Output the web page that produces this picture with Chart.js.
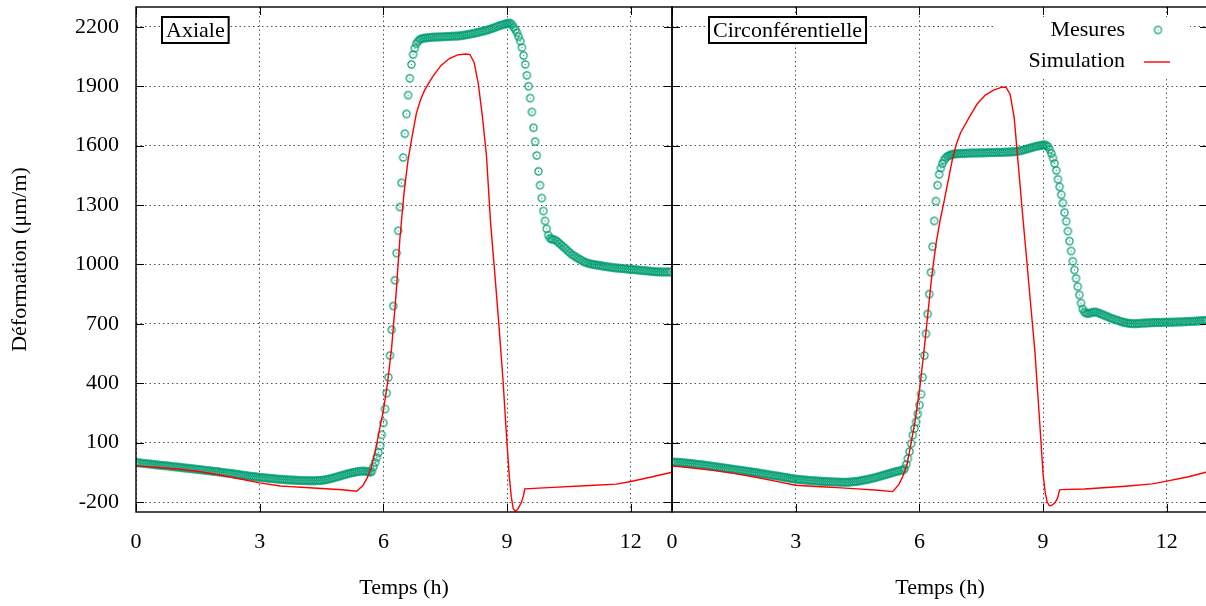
<!DOCTYPE html>
<html>
<head>
<meta charset="utf-8">
<script src="https://cdn.jsdelivr.net/npm/chart.js@4.4.0/dist/chart.umd.min.js"></script>
<style>
  html, body { margin: 0; padding: 0; background: #fff; }
  #wrap { position: relative; width: 1206px; height: 606px; overflow: hidden; }
  #axial { position: absolute; left: 0; top: 0; width: 680px; height: 606px; }
  #circ  { position: absolute; left: 622px; top: 0; width: 600px; height: 606px; }
</style>
</head>
<body>
<div id="wrap">
  <canvas id="axial" width="680" height="606"></canvas>
  <canvas id="circ" width="600" height="606"></canvas>
</div>
<script>
// temps des mesures (h), commun aux deux jauges
const tMes = [
  0,0.05,0.1,0.15,0.2,0.25,0.3,0.35,0.4,0.45,0.5,0.55,0.6,0.65,0.7,0.75,0.8,0.85,0.9,0.95,
  1,1.05,1.1,1.15,1.2,1.25,1.3,1.35,1.4,1.45,1.5,1.55,1.6,1.65,1.7,1.75,1.8,1.85,1.9,1.95,
  2,2.05,2.1,2.15,2.2,2.25,2.3,2.35,2.4,2.45,2.5,2.55,2.6,2.65,2.7,2.75,2.8,2.85,2.9,2.95,
  3,3.05,3.1,3.15,3.2,3.25,3.3,3.35,3.4,3.45,3.5,3.55,3.6,3.65,3.7,3.75,3.8,3.85,3.9,3.95,
  4,4.05,4.1,4.15,4.2,4.25,4.3,4.35,4.4,4.45,4.5,4.55,4.6,4.65,4.7,4.75,4.8,4.85,4.9,4.95,
  5,5.05,5.1,5.15,5.2,5.25,5.3,5.35,5.4,5.45,5.5,5.55,5.6,
  5.64,5.68,5.72,5.76,5.8,5.84,5.88,5.92,5.96,6,6.04,6.08,6.12,6.16,6.2,6.24,
  6.28,6.32,6.36,6.4,6.44,6.48,6.52,6.56,6.6,6.64,6.68,6.72,6.76,6.8,6.84,6.88,
  6.92,6.97,7.02,7.07,7.12,7.17,7.22,7.27,7.32,7.37,7.42,7.47,7.52,7.57,7.62,7.67,7.72,7.77,7.82,7.87,
  7.92,7.97,8.02,8.07,8.12,8.17,8.22,8.27,8.32,8.37,8.42,8.47,8.52,8.57,8.62,8.67,8.72,8.77,8.82,8.87,
  8.92,8.97,
  9,9.04,9.08,9.12,9.16,9.2,9.24,9.28,9.32,9.36,9.4,9.44,9.48,9.52,9.56,9.6,9.64,9.68,
  9.72,9.76,9.8,9.84,9.88,9.92,9.96,10,10.04,10.08,
  10.12,10.17,10.22,10.27,10.32,10.37,10.42,10.47,10.52,10.57,10.62,10.67,10.72,10.77,10.82,10.87,10.92,10.97,11.02,11.07,
  11.12,11.17,11.22,11.27,11.32,11.37,11.42,11.47,11.52,11.57,11.62,11.67,11.72,11.77,11.82,11.87,11.92,11.97,12.02,12.07,
  12.12,12.17,12.22,12.27,12.32,12.37,12.42,12.47,12.52,12.57,12.62,12.67,12.72,12.77,12.82,12.87,12.92,12.97
];
const axialMes = [
  0,-1,-2,-4,-5,-6,-7,-8,-9,-11,-12,-13,-14,-15,-16,-17,-18,-20,-21,-22,
  -23,-24,-25,-27,-28,-29,-30,-31,-32,-34,-35,-36,-37,-39,-40,-41,-42,-44,-45,-46,
  -47,-49,-50,-52,-53,-54,-55,-57,-58,-60,-61,-63,-64,-66,-67,-69,-70,-71,-72,-74,
  -75,-76,-77,-78,-79,-80,-81,-82,-83,-84,-85,-85,-86,-87,-88,-88,-89,-89,-90,-90,
  -91,-91,-91,-92,-92,-92,-92,-92,-91,-91,-90,-89,-87,-85,-82,-80,-77,-74,-71,-68,
  -65,-62,-59,-56,-54,-51,-49,-47,-45,-44,-43,-44,-45,
  -47,-49,-45,-22,0,25,50,85,140,200,270,350,430,540,670,790,
  920,1057,1170,1290,1412,1540,1660,1760,1855,1940,2010,2060,2092,2115,2127,2135,
  2140,2142,2144,2145,2146,2147,2148,2148,2149,2149,2150,2150,2151,2151,2152,2152,2153,2153,2154,2155,
  2157,2158,2160,2162,2164,2166,2168,2171,2173,2176,2178,2181,2184,2187,2191,2194,2198,2202,2206,2209,
  2212,2215,
  2216,2219,2218,2210,2198,2185,2170,2150,2128,2095,2055,2010,1955,1900,1840,1770,1690,1620,
  1550,1470,1400,1335,1270,1220,1180,1148,1132,1128,
  1126,1123,1115,1106,1097,1088,1079,1069,1060,1051,1044,1037,1031,1025,1019,1013,1009,1006,1003,1001,
  999,997,996,994,992,990,989,987,986,984,983,982,981,980,979,978,977,976,975,974,
  973,972,971,970,969,968,967,966,965,964,963,963,962,962,962,962,962,962
];
const circMes = [
  2,2,1,1,0,-1,-2,-3,-4,-5,-6,-7,-9,-10,-11,-12,-14,-15,-17,-18,
  -20,-21,-23,-24,-26,-27,-29,-30,-32,-33,-35,-36,-38,-39,-41,-42,-44,-45,-47,-48,
  -50,-51,-53,-55,-57,-58,-60,-62,-64,-65,-67,-68,-70,-72,-74,-75,-77,-79,-81,-82,
  -84,-85,-86,-87,-88,-89,-90,-91,-92,-92,-93,-94,-95,-95,-96,-96,-97,-97,-98,-98,
  -99,-99,-100,-100,-100,-100,-99,-98,-97,-96,-95,-93,-91,-89,-87,-85,-83,-80,-78,-75,
  -72,-69,-66,-63,-60,-57,-54,-51,-48,-45,-43,-40,-38,
  -32,-10,20,55,95,138,172,205,245,290,345,430,540,650,750,850,
  960,1090,1220,1320,1400,1455,1487,1510,1527,1538,1546,1550,1553,1556,1558,1559,
  1559,1560,1560,1561,1561,1562,1562,1563,1563,1563,1563,1564,1564,1564,1564,1565,1565,1565,1565,1566,
  1566,1566,1566,1567,1567,1568,1568,1569,1570,1571,1573,1575,1578,1581,1584,1587,1590,1593,1596,1598,
  1600,1602,
  1603,1604,1600,1595,1580,1561,1537,1510,1475,1430,1392,1352,1310,1262,1218,1168,1118,1068,
  1016,972,930,888,846,805,775,760,755,752,
  754,757,759,760,757,753,749,745,740,736,731,727,724,720,717,713,710,707,705,703,
  702,701,701,701,702,703,704,704,705,705,706,706,707,707,707,707,708,708,708,708,
  709,709,709,710,710,710,711,711,712,712,713,713,714,715,716,716,717,718
];

// simulation
const tSim = [
  0,0.5,1,1.5,2,2.5,3,3.5,3.75,4,4.5,5,5.35,5.5,5.6,5.7,5.8,5.9,6,6.1,
  6.2,6.3,6.4,6.5,6.6,6.7,6.8,6.9,7,7.2,7.4,7.6,7.8,8,8.1,8.2,8.3,8.4,8.5,8.6,
  8.7,8.8,8.9,9,9.05,9.1,9.15,9.2,9.25,9.3,9.35,9.4,9.43,10,11,11.65,12,12.5,13
];
const axialSim = [
  -17,-24,-33,-44,-62,-82,-103,-119,-122,-125,-131,-138,-145,-118,-80,-30,55,160,263,400,
  580,830,1130,1360,1530,1650,1763,1830,1880,1950,2005,2040,2058,2063,2060,2020,1915,1750,1550,1210,
  960,700,420,90,-60,-170,-235,-245,-238,-220,-200,-165,-133,-127,-116,-109,-96,-73,-49
];
const circSim = [
  -17,-28,-40,-55,-73,-94,-115,-121,-124,-127,-133,-140,-147,-112,-70,-10,100,215,360,540,
  740,940,1100,1220,1320,1426,1530,1610,1665,1740,1810,1855,1880,1895,1895,1860,1740,1500,1260,1030,
  795,566,260,-58,-150,-200,-218,-218,-210,-200,-180,-139,-137,-134,-120,-108,-94,-73,-47
];

const xTicks = [0, 3, 6, 9, 12];
const yTicks = [-200, 100, 400, 700, 1000, 1300, 1600, 1900, 2200];

const GREEN = "#009e73";
const RED = "#ff0000";
const FONT = "'Liberation Serif', 'Times New Roman', serif";

function pts(t, v) { return t.map((x, i) => ({ x: x, y: v[i] })); }

// cercle avec point central, comme le symbole gnuplot
function ringImage() {
  const c = document.createElement("canvas");
  c.width = 11; c.height = 11;
  const g = c.getContext("2d");
  g.strokeStyle = GREEN; g.lineWidth = 1.2;
  g.beginPath(); g.arc(5.5, 5.5, 3.6, 0, Math.PI * 2); g.stroke();
  g.fillStyle = GREEN; g.fillRect(5, 5, 1, 1);
  return c;
}
const ring = ringImage();

const framePlugin = {
  id: "frame",
  afterDatasetsDraw(chart) {
    const { ctx, chartArea: a, scales: { x, y } } = chart;
    ctx.save();
    ctx.strokeStyle = "#000";
    ctx.lineWidth = 1;
    ctx.beginPath();
    yTicks.forEach(v => {
      const py = Math.round(y.getPixelForValue(v)) + 0.5;
      ctx.moveTo(a.left, py); ctx.lineTo(a.left + 8, py);
      ctx.moveTo(a.right, py); ctx.lineTo(a.right - 8, py);
    });
    xTicks.forEach(v => {
      const px = Math.round(x.getPixelForValue(v)) + 0.5;
      ctx.moveTo(px, a.bottom); ctx.lineTo(px, a.bottom - 8);
      ctx.moveTo(px, a.top); ctx.lineTo(px, a.top + 8);
    });
    ctx.stroke();
    ctx.lineWidth = 1.4;
    ctx.strokeRect(a.left, a.top, a.right - a.left, a.bottom - a.top);
    ctx.restore();
  }
};

const panelPlugin = {
  id: "panel",
  beforeDatasetsDraw(chart, args, o) {
    const { ctx, chartArea: a } = chart;
    ctx.save();
    ctx.font = "22px " + FONT;
    const w = ctx.measureText(o.text).width;
    const x0 = a.left + o.dx, y0 = a.top + 10;
    ctx.fillStyle = "#fff";
    ctx.fillRect(x0, y0, w + 8, 26);
    ctx.lineWidth = 2;
    ctx.strokeStyle = "#000";
    ctx.strokeRect(x0, y0, w + 8, 26);
    ctx.fillStyle = "#000";
    ctx.textBaseline = "middle";
    ctx.fillText(o.text, x0 + 4, y0 + 14);
    ctx.restore();
  }
};

const keyPlugin = {
  id: "keybox",
  beforeDatasetsDraw(chart, args, o) {
    if (!o.show) return;
    const { ctx, chartArea: a } = chart;
    const L = a.left, T = a.top;
    const sim = chart.data.datasets[0], mes = chart.data.datasets[1];
    ctx.save();
    ctx.fillStyle = "#fff";
    ctx.fillRect(L + 323, T + 10, 195, 60);
    ctx.font = "22px " + FONT;
    ctx.fillStyle = "#000";
    ctx.textAlign = "right";
    ctx.textBaseline = "middle";
    ctx.fillText(mes.label, L + 453, T + 23);
    ctx.fillText(sim.label, L + 453, T + 54);
    ctx.drawImage(ring, L + 486 - 5.5, T + 23 - 5.5);
    ctx.strokeStyle = RED;
    ctx.lineWidth = 1.4;
    ctx.beginPath();
    ctx.moveTo(L + 472, T + 55); ctx.lineTo(L + 498, T + 55);
    ctx.stroke();
    ctx.restore();
  }
};

function noPad(s) {
  s.paddingTop = 0; s.paddingBottom = 0;
  s.paddingLeft = 0; s.paddingRight = 0;
}

function makeChart(id, mes, sim, cfg) {
  return new Chart(document.getElementById(id), {
    type: "scatter",
    data: {
      datasets: [
        { label: "Simulation", data: pts(tSim, sim), showLine: true, borderColor: RED,
          borderWidth: 1.4, pointRadius: 0, tension: 0, order: 0 },
        { label: "Mesures", data: pts(tMes, mes), showLine: false, pointStyle: ring,
          pointRadius: 4, order: 1 }
      ]
    },
    options: {
      responsive: false,
      animation: false,
      layout: { padding: { left: cfg.padLeft, right: cfg.padRight, top: 7, bottom: 0 } },
      plugins: {
        legend: { display: false },
        tooltip: { enabled: false },
        panel: { text: cfg.title, dx: cfg.dx },
        keybox: { show: cfg.key }
      },
      scales: {
        x: {
          type: "linear", min: 0, max: 13,
          afterBuildTicks: s => { s.ticks = xTicks.map(v => ({ value: v })); },
          afterFit: s => { s.height = 94; noPad(s); },
          grid: { color: "#555", lineWidth: 1, drawTicks: false },
          border: { display: false, dash: [1.5, 3] },
          ticks: { color: "#000", font: { family: FONT, size: 22 }, padding: 17, maxRotation: 0,
                   callback: v => String(v) },
          title: { display: true, text: "Temps (h)", color: "#000",
                   font: { family: FONT, size: 22 }, padding: { top: 0, bottom: 5 } }
        },
        y: {
          type: "linear", min: -250, max: 2300,
          afterBuildTicks: s => { s.ticks = yTicks.map(v => ({ value: v })); },
          afterFit: s => { s.width = cfg.yWidth; noPad(s); },
          grid: { color: "#555", lineWidth: 1, drawTicks: false },
          border: { display: false, dash: [1.5, 3] },
          ticks: { display: cfg.yLabels, color: "#000", font: { family: FONT, size: 22 }, padding: 17,
                   callback: v => String(v) },
          title: { display: cfg.yLabels, text: "Déformation (μm/m)", color: "#000",
                   font: { family: FONT, size: 22 }, padding: { top: 7, bottom: 7 } }
        }
      }
    },
    plugins: [panelPlugin, keyPlugin, framePlugin]
  });
}

makeChart("axial", axialMes, axialSim,
  { padLeft: 0, padRight: 8, yWidth: 136, yLabels: true, title: "Axiale", dx: 26, key: false });
makeChart("circ", circMes, circSim,
  { padLeft: 50, padRight: 14, yWidth: 0, yLabels: false, title: "Circonférentielle", dx: 37, key: true });
</script>
</body>
</html>
